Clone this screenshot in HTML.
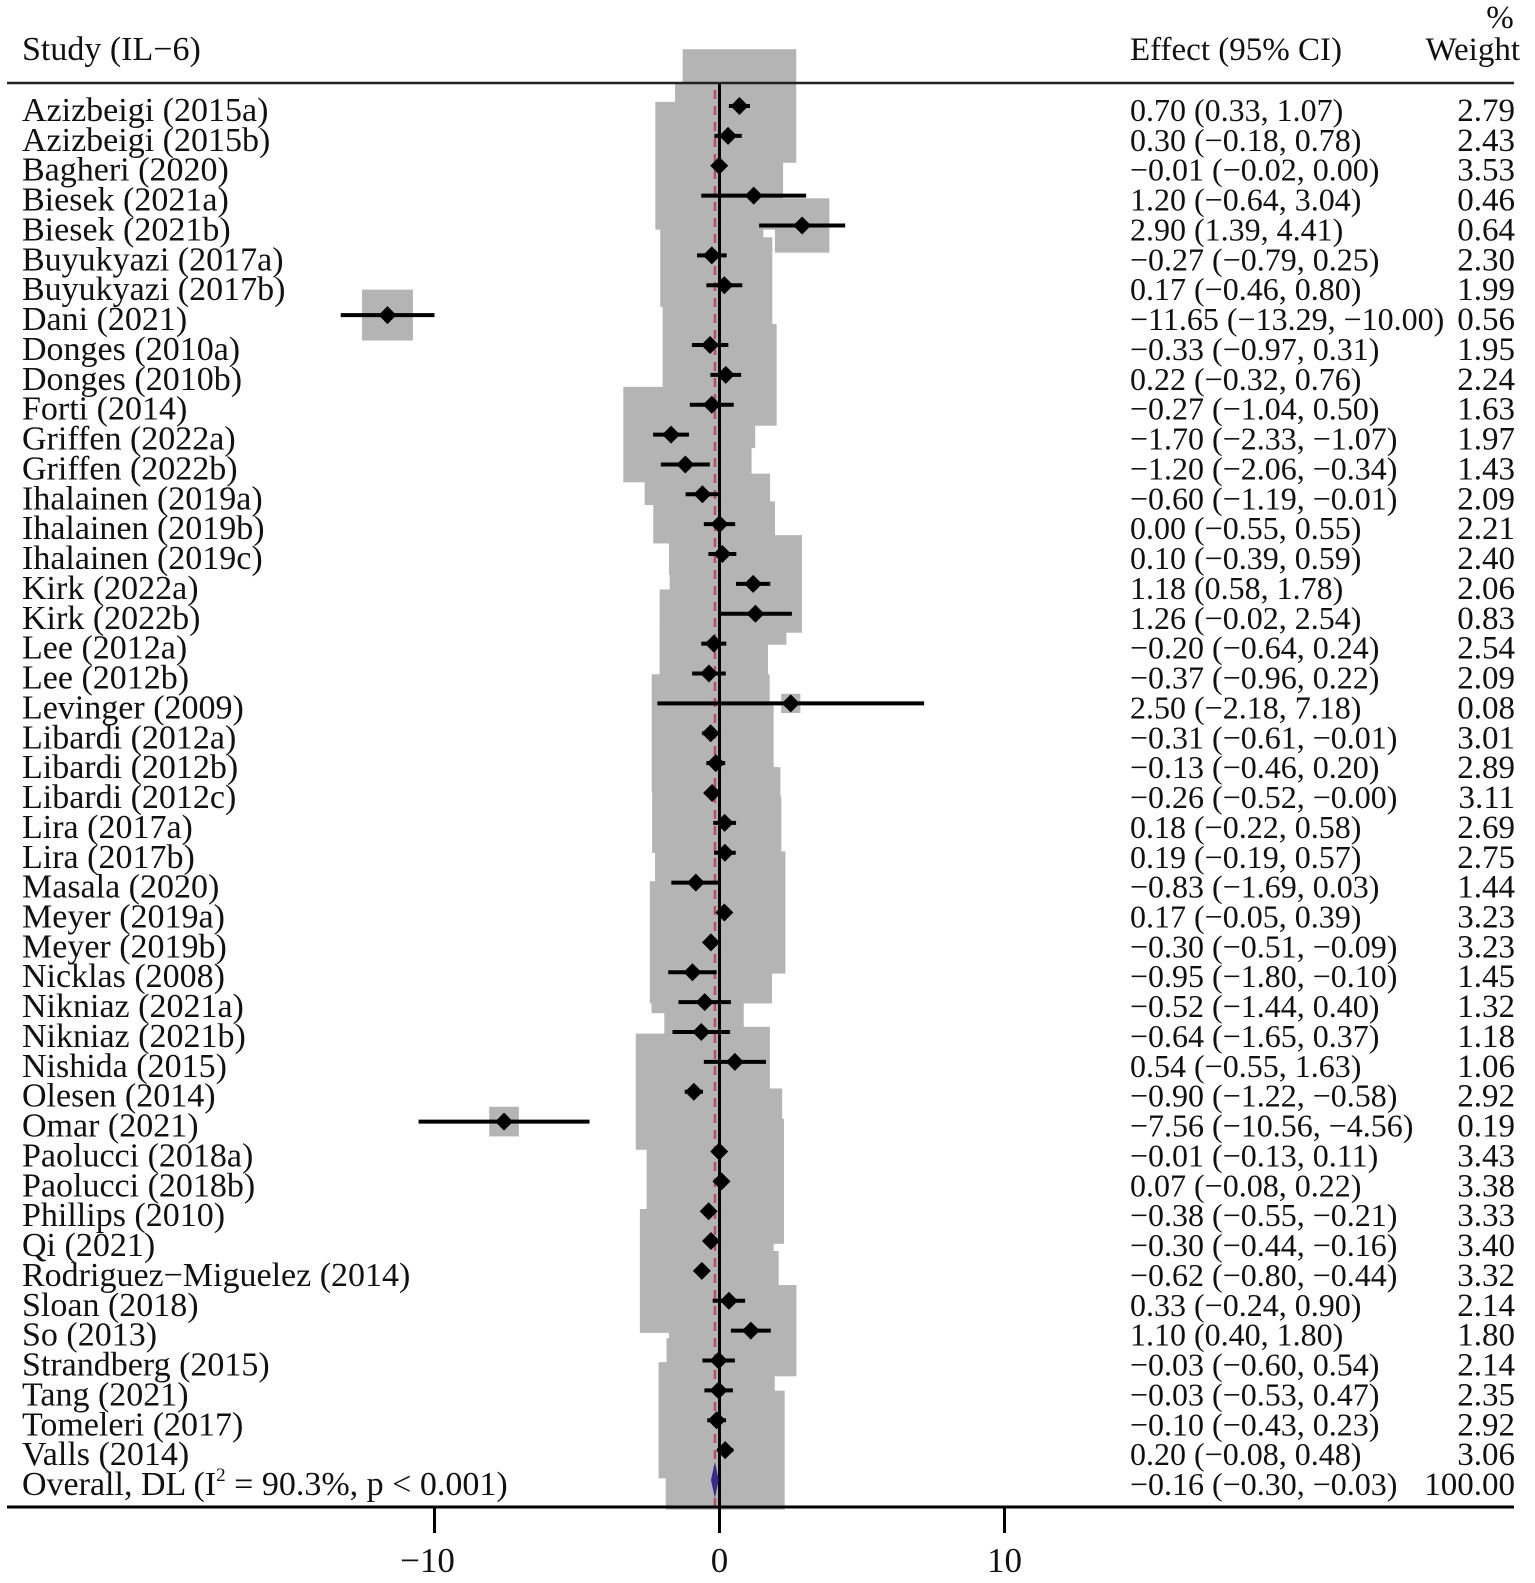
<!DOCTYPE html>
<html><head><meta charset="utf-8"><style>
html,body{margin:0;padding:0;background:#fff}
svg{display:block}
text{font-family:"Liberation Serif","DejaVu Serif",serif;fill:#111}
</style></head><body>
<svg id="chart" width="1535" height="1583" viewBox="0 0 1535 1583" xmlns="http://www.w3.org/2000/svg">
<g id="boxes"></g>
<g id="refs"></g>
<g id="cis"></g>
<g id="marks"></g>
<g id="labels"></g>
<g id="axis"></g>
<text x="22" y="60" font-size="34">Study (IL−6)</text>
<text x="1130" y="60" font-size="33">Effect (95% CI)</text>
<text x="1500" y="28" font-size="33" text-anchor="middle">%</text>
<text x="1520" y="60" font-size="33" text-anchor="end">Weight</text>
<line x1="7" y1="83" x2="1514" y2="83" stroke="#222" stroke-width="2.5"/>
</svg>
<script>
const studies=["Azizbeigi (2015a)","Azizbeigi (2015b)","Bagheri (2020)","Biesek (2021a)","Biesek (2021b)","Buyukyazi (2017a)","Buyukyazi (2017b)","Dani (2021)","Donges (2010a)","Donges (2010b)","Forti (2014)","Griffen (2022a)","Griffen (2022b)","Ihalainen (2019a)","Ihalainen (2019b)","Ihalainen (2019c)","Kirk (2022a)","Kirk (2022b)","Lee (2012a)","Lee (2012b)","Levinger (2009)","Libardi (2012a)","Libardi (2012b)","Libardi (2012c)","Lira  (2017a)","Lira  (2017b)","Masala (2020)","Meyer (2019a)","Meyer (2019b)","Nicklas (2008)","Nikniaz (2021a)","Nikniaz (2021b)","Nishida (2015)","Olesen (2014)","Omar (2021)","Paolucci (2018a)","Paolucci (2018b)","Phillips (2010)","Qi (2021)","Rodriguez−Miguelez (2014)","Sloan (2018)","So (2013)","Strandberg (2015)","Tang (2021)","Tomeleri (2017)","Valls (2014)"];
const est=[0.70,0.30,-0.01,1.20,2.90,-0.27,0.17,-11.65,-0.33,0.22,-0.27,-1.70,-1.20,-0.60,0.00,0.10,1.18,1.26,-0.20,-0.37,2.50,-0.31,-0.13,-0.26,0.18,0.19,-0.83,0.17,-0.30,-0.95,-0.52,-0.64,0.54,-0.90,-7.56,-0.01,0.07,-0.38,-0.30,-0.62,0.33,1.10,-0.03,-0.03,-0.10,0.20];
const lower=[0.33,-0.18,-0.02,-0.64,1.39,-0.79,-0.46,-13.29,-0.97,-0.32,-1.04,-2.33,-2.06,-1.19,-0.55,-0.39,0.58,-0.02,-0.64,-0.96,-2.18,-0.61,-0.46,-0.52,-0.22,-0.19,-1.69,-0.05,-0.51,-1.80,-1.44,-1.65,-0.55,-1.22,-10.56,-0.13,-0.08,-0.55,-0.44,-0.80,-0.24,0.40,-0.60,-0.53,-0.43,-0.08];
const upper=[1.07,0.78,0.00,3.04,4.41,0.25,0.80,-10.00,0.31,0.76,0.50,-1.07,-0.34,-0.01,0.55,0.59,1.78,2.54,0.24,0.22,7.18,-0.01,0.20,-0.00,0.58,0.57,0.03,0.39,-0.09,-0.10,0.40,0.37,1.63,-0.58,-4.56,0.11,0.22,-0.21,-0.16,-0.44,0.90,1.80,0.54,0.47,0.23,0.48];
const weights=["2.79","2.43","3.53","0.46","0.64","2.30","1.99","0.56","1.95","2.24","1.63","1.97","1.43","2.09","2.21","2.40","2.06","0.83","2.54","2.09","0.08","3.01","2.89","3.11","2.69","2.75","1.44","3.23","3.23","1.45","1.32","1.18","1.06","2.92","0.19","3.43","3.38","3.33","3.40","3.32","2.14","1.80","2.14","2.35","2.92","3.06"];
const overall=[-0.16,-0.30,-0.03];
const tickValues=[-10,0,10];
const tickLabels=["−10","0","10"];

const NS="http://www.w3.org/2000/svg";
const X=v=>719.5+28.5*v;
const baseY=i=>121+i*29.87;
const rowY=i=>baseY(i)-15;
const fmt=v=>(v<0||Object.is(v,-0)?"−":"")+Math.abs(v).toFixed(2);
function mk(tag,attrs,parent){const e=document.createElementNS(NS,tag);for(const k in attrs)e.setAttribute(k,attrs[k]);parent.appendChild(e);return e;}
const gB=document.getElementById('boxes'),gR=document.getElementById('refs'),gC=document.getElementById('cis'),gM=document.getElementById('marks'),gL=document.getElementById('labels'),gA=document.getElementById('axis');
studies.forEach((s,i)=>{
  const y=rowY(i),w=parseFloat(weights[i]),side=68*Math.sqrt(w),cx=X(est[i]);
  const b=mk('rect',{x:cx-side/2,y:y-side/2,width:side,height:side,fill:'#b4b4b4'},gB);
  
  
  const l=mk('line',{x1:X(lower[i]),x2:X(upper[i]),y1:y,y2:y,stroke:'#000','stroke-width':4},gC);
  
  
  const d=mk('polygon',{points:`${cx-9},${y} ${cx},${y-9} ${cx+9},${y} ${cx},${y+9}`,fill:'#000'},gM);
  
  
  const t1=mk('text',{x:22,y:baseY(i),'font-size':34},gL);t1.textContent=s;
  
  
  const t2=mk('text',{x:1130,y:baseY(i),'font-size':32},gL);t2.textContent=`${fmt(est[i])} (${fmt(lower[i])}, ${fmt(upper[i])})`;
  
  
  const t3=mk('text',{x:1515,y:baseY(i),'font-size':33,'text-anchor':'end'},gL);t3.textContent=weights[i];
  
  
});
const n=studies.length,oy=baseY(n)-15;
const z=mk('line',{x1:X(0),x2:X(0),y1:83,y2:1507,stroke:'#000','stroke-width':3},gR);


const dl=mk('line',{x1:X(overall[0]),x2:X(overall[0]),y1:90,y2:1507,stroke:'#b8505f','stroke-width':2.5,'stroke-dasharray':'9 7'},gR);


const od=mk('polygon',{points:`${X(overall[1])},${oy} ${X(overall[0])},${oy-18} ${X(overall[2])},${oy} ${X(overall[0])},${oy+18}`,fill:'#3b2a8c'},gM);


const ot=mk('text',{x:22,y:baseY(n),'font-size':34},gL);ot.innerHTML='Overall, DL (I<tspan font-size="19" dy="-14">2</tspan><tspan dy="14"> = 90.3%, p &lt; 0.001)</tspan>';


const oe=mk('text',{x:1130,y:baseY(n),'font-size':32},gL);oe.textContent=`${fmt(overall[0])} (${fmt(overall[1])}, ${fmt(overall[2])})`;


const ow=mk('text',{x:1515,y:baseY(n),'font-size':33,'text-anchor':'end'},gL);ow.textContent="100.00";


const ax=mk('line',{x1:7,x2:1514,y1:1507,y2:1507,stroke:'#000','stroke-width':3},gA);


tickValues.forEach((v,i)=>{
  const tk=mk('line',{x1:X(v),x2:X(v),y1:1507,y2:1533,stroke:'#000','stroke-width':3},gA);
  
  
  const tl=mk('text',{x:X(v)-(v<0?7:0),y:1572,'font-size':35,'text-anchor':'middle'},gA);tl.textContent=tickLabels[i];
  
  
});
</script>
</body></html>
